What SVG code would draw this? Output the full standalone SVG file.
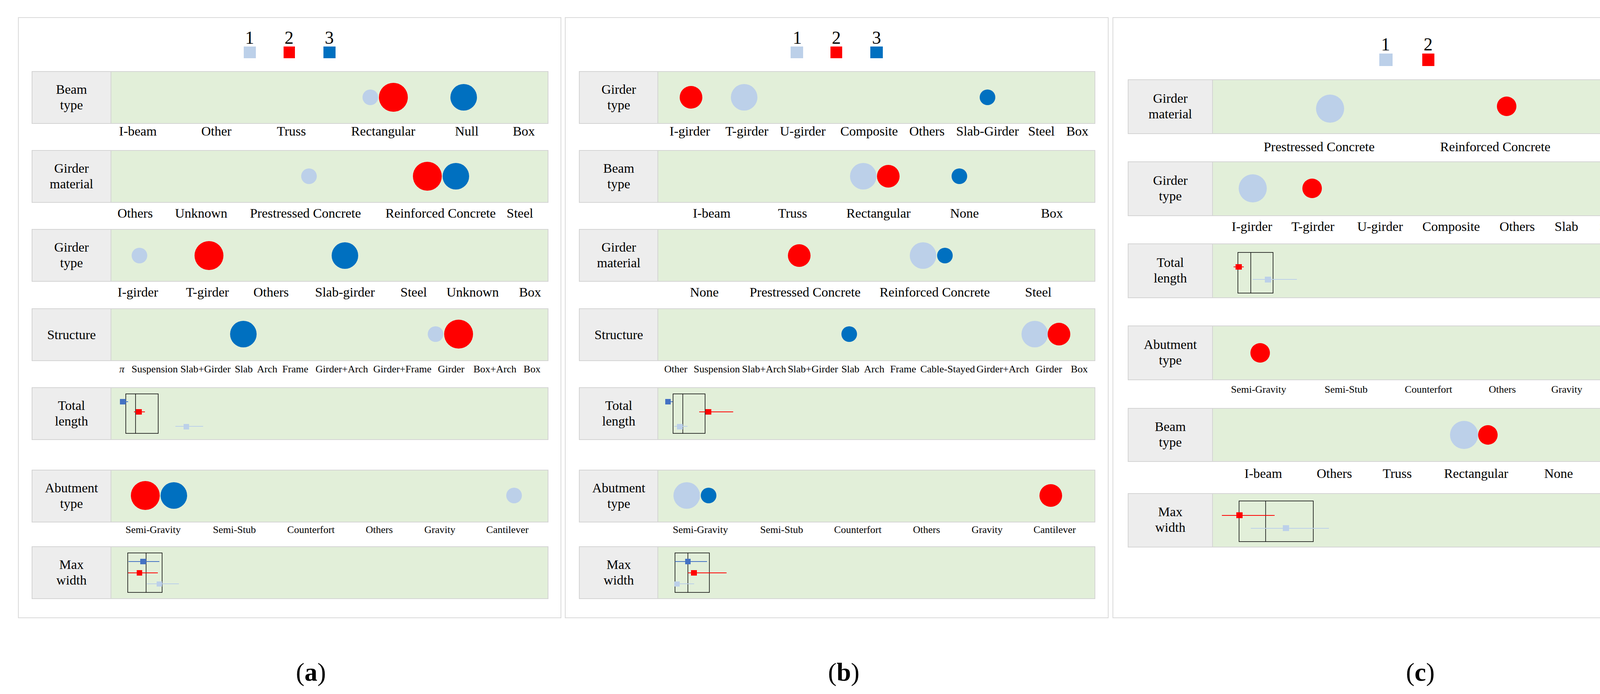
<svg xmlns="http://www.w3.org/2000/svg" width="4380" height="1776" viewBox="0 0 4380 1776">
<style>
text{font-family:"Liberation Serif","Times New Roman",serif;fill:#000;text-anchor:middle}
.t{font-size:34px}.s{font-size:26px}.lg{font-size:46px}.cap{font-size:66px}
.panel{fill:#fff;stroke:#d9d9d9;stroke-width:2}
.lab{fill:#ededed;stroke:#d4d4d4;stroke-width:2}
.grn{fill:#e2efd9;stroke:#d4d4d4;stroke-width:2}
.c1{fill:#bcd0e9}.c2{fill:#ff0000}.c3{fill:#0070c0}.q3{fill:#4472c4}
.box{fill:none;stroke:#000;stroke-width:1.5}
.w1{stroke:#bcd0e9;stroke-width:2}.w2{stroke:#ff0000;stroke-width:2}.w3{stroke:#4472c4;stroke-width:2}
</style>
<rect width="4380" height="1776" fill="#fff"/>
<rect class="panel" x="47" y="45" width="1389" height="1536"/>
<rect class="panel" x="1447" y="45" width="1390" height="1536"/>
<rect class="panel" x="2849" y="45" width="1495" height="1536"/>

<!-- Panel a -->
<g id="legend-a">
<text class="lg" x="639" y="112">1</text><rect class="c1" x="624" y="119" width="31" height="30"/>
<text class="lg" x="740" y="112">2</text><rect class="c2" x="726" y="119" width="29" height="30"/>
<text class="lg" x="843" y="112">3</text><rect class="c3" x="828" y="119" width="31" height="30"/>
</g>
<g id="a-beam">
<rect class="lab" x="82" y="183" width="202" height="133"/><rect class="grn" x="284" y="183" width="1119" height="133"/>
<text class="t" x="183" y="240">Beam</text><text class="t" x="183" y="280">type</text>
<circle class="c1" cx="948" cy="249" r="20"/><circle class="c2" cx="1007" cy="249" r="37"/><circle class="c3" cx="1187" cy="249" r="34"/>
<text class="t" x="353" y="347">I-beam</text><text class="t" x="554" y="347">Other</text><text class="t" x="746" y="347">Truss</text><text class="t" x="981" y="347">Rectangular</text><text class="t" x="1195" y="347">Null</text><text class="t" x="1341" y="347">Box</text>
</g>
<g id="a-gmat">
<rect class="lab" x="82" y="385" width="202" height="133"/><rect class="grn" x="284" y="385" width="1119" height="133"/>
<text class="t" x="183" y="442">Girder</text><text class="t" x="183" y="482">material</text>
<circle class="c1" cx="791" cy="451" r="20"/><circle class="c2" cx="1094" cy="451" r="37"/><circle class="c3" cx="1167" cy="451" r="34"/>
<text class="t" x="346" y="557">Others</text><text class="t" x="515" y="557">Unknown</text><text class="t" x="782" y="557">Prestressed Concrete</text><text class="t" x="1128" y="557">Reinforced Concrete</text><text class="t" x="1331" y="557">Steel</text>
</g>
<g id="a-gtype">
<rect class="lab" x="82" y="587" width="202" height="133"/><rect class="grn" x="284" y="587" width="1119" height="133"/>
<text class="t" x="183" y="644">Girder</text><text class="t" x="183" y="684">type</text>
<circle class="c1" cx="357" cy="654" r="20"/><circle class="c2" cx="535" cy="654" r="37"/><circle class="c3" cx="883" cy="654" r="34"/>
<text class="t" x="353" y="759">I-girder</text><text class="t" x="531" y="759">T-girder</text><text class="t" x="694" y="759">Others</text><text class="t" x="883" y="759">Slab-girder</text><text class="t" x="1059" y="759">Steel</text><text class="t" x="1210" y="759">Unknown</text><text class="t" x="1357" y="759">Box</text>
</g>
<g id="a-struct">
<rect class="lab" x="82" y="790" width="202" height="133"/><rect class="grn" x="284" y="790" width="1119" height="133"/>
<text class="t" x="183" y="868">Structure</text>
<circle class="c3" cx="623" cy="855" r="34"/><circle class="c1" cx="1115" cy="855" r="20"/><circle class="c2" cx="1174" cy="855" r="37"/>
<text class="s" x="312" y="953" font-style="italic">π</text><text class="s" x="396" y="953">Suspension</text><text class="s" x="526" y="953">Slab+Girder</text><text class="s" x="624" y="953">Slab</text><text class="s" x="684" y="953">Arch</text><text class="s" x="756" y="953">Frame</text><text class="s" x="875" y="953">Girder+Arch</text><text class="s" x="1030" y="953">Girder+Frame</text><text class="s" x="1155" y="953">Girder</text><text class="s" x="1267" y="953">Box+Arch</text><text class="s" x="1362" y="953">Box</text>
</g>
<g id="a-tlen">
<rect class="lab" x="82" y="992" width="202" height="133"/><rect class="grn" x="284" y="992" width="1119" height="133"/>
<text class="t" x="183" y="1049">Total</text><text class="t" x="183" y="1089">length</text>
<rect class="box" x="322" y="1008" width="83" height="101"/><line class="box" x1="347" y1="1008" x2="347" y2="1109"/>
<line class="w3" x1="307" y1="1028" x2="328" y2="1028"/><rect class="q3" x="307" y="1021" width="15" height="14"/>
<line class="w2" x1="343" y1="1054" x2="371" y2="1054"/><rect class="c2" x="348" y="1047" width="15" height="14"/>
<line class="w1" x1="449" y1="1091" x2="520" y2="1091"/><rect class="c1" x="470" y="1085" width="14" height="14"/>
</g>
<g id="a-abut">
<rect class="lab" x="82" y="1203" width="202" height="133"/><rect class="grn" x="284" y="1203" width="1119" height="133"/>
<text class="t" x="183" y="1260">Abutment</text><text class="t" x="183" y="1300">type</text>
<circle class="c2" cx="372" cy="1268" r="37"/><circle class="c3" cx="445" cy="1268" r="34"/><circle class="c1" cx="1316" cy="1268" r="20"/>
<text class="s" x="392" y="1364">Semi-Gravity</text><text class="s" x="600" y="1364">Semi-Stub</text><text class="s" x="796" y="1364">Counterfort</text><text class="s" x="971" y="1364">Others</text><text class="s" x="1126" y="1364">Gravity</text><text class="s" x="1299" y="1364">Cantilever</text>
</g>
<g id="a-mw">
<rect class="lab" x="82" y="1399" width="202" height="133"/><rect class="grn" x="284" y="1399" width="1119" height="133"/>
<text class="t" x="183" y="1456">Max</text><text class="t" x="183" y="1496">width</text>
<rect class="box" x="327" y="1415" width="88" height="101"/><line class="box" x1="374" y1="1415" x2="374" y2="1516"/>
<line class="w3" x1="329" y1="1437" x2="408" y2="1437"/><rect class="q3" x="359" y="1430" width="15" height="14"/>
<line class="w2" x1="328" y1="1466" x2="404" y2="1466"/><rect class="c2" x="350" y="1459" width="14" height="14"/>
<line class="w1" x1="376" y1="1494" x2="458" y2="1494"/><rect class="c1" x="401" y="1488" width="14" height="13"/>
</g>
<text class="cap" x="796" y="1742">(<tspan font-weight="bold">a</tspan>)</text>

<!-- Panel b -->
<g id="legend-b">
<text class="lg" x="2041" y="112">1</text><rect class="c1" x="2024" y="119" width="32" height="30"/>
<text class="lg" x="2141" y="112">2</text><rect class="c2" x="2126" y="119" width="30" height="30"/>
<text class="lg" x="2244" y="112">3</text><rect class="c3" x="2228" y="119" width="32" height="30"/>
</g>
<g id="b-gtype">
<rect class="lab" x="1483" y="183" width="201" height="133"/><rect class="grn" x="1684" y="183" width="1119" height="133"/>
<text class="t" x="1584" y="240">Girder</text><text class="t" x="1584" y="280">type</text>
<circle class="c2" cx="1769" cy="249" r="29"/><circle class="c1" cx="1905" cy="249" r="34"/><circle class="c3" cx="2528" cy="249" r="20"/>
<text class="t" x="1766" y="347">I-girder</text><text class="t" x="1912" y="347">T-girder</text><text class="t" x="2055" y="347">U-girder</text><text class="t" x="2225" y="347">Composite</text><text class="t" x="2373" y="347">Others</text><text class="t" x="2528" y="347">Slab-Girder</text><text class="t" x="2666" y="347">Steel</text><text class="t" x="2758" y="347">Box</text>
</g>
<g id="b-beam">
<rect class="lab" x="1483" y="385" width="201" height="133"/><rect class="grn" x="1684" y="385" width="1119" height="133"/>
<text class="t" x="1584" y="442">Beam</text><text class="t" x="1584" y="482">type</text>
<circle class="c1" cx="2210" cy="451" r="34"/><circle class="c2" cx="2274" cy="451" r="29"/><circle class="c3" cx="2456" cy="451" r="20"/>
<text class="t" x="1822" y="557">I-beam</text><text class="t" x="2029" y="557">Truss</text><text class="t" x="2249" y="557">Rectangular</text><text class="t" x="2469" y="557">None</text><text class="t" x="2693" y="557">Box</text>
</g>
<g id="b-gmat">
<rect class="lab" x="1483" y="587" width="201" height="133"/><rect class="grn" x="1684" y="587" width="1119" height="133"/>
<text class="t" x="1584" y="644">Girder</text><text class="t" x="1584" y="684">material</text>
<circle class="c2" cx="2046" cy="654" r="29"/><circle class="c1" cx="2363" cy="654" r="34"/><circle class="c3" cx="2419" cy="654" r="20"/>
<text class="t" x="1803" y="759">None</text><text class="t" x="2061" y="759">Prestressed Concrete</text><text class="t" x="2393" y="759">Reinforced Concrete</text><text class="t" x="2658" y="759">Steel</text>
</g>
<g id="b-struct">
<rect class="lab" x="1483" y="790" width="201" height="133"/><rect class="grn" x="1684" y="790" width="1119" height="133"/>
<text class="t" x="1584" y="868">Structure</text>
<circle class="c3" cx="2174" cy="855" r="20"/><circle class="c1" cx="2649" cy="855" r="34"/><circle class="c2" cx="2711" cy="855" r="29"/>
<text class="s" x="1730" y="953">Other</text><text class="s" x="1835" y="953">Suspension</text><text class="s" x="1956" y="953">Slab+Arch</text><text class="s" x="2081" y="953">Slab+Girder</text><text class="s" x="2177" y="953">Slab</text><text class="s" x="2238" y="953">Arch</text><text class="s" x="2312" y="953">Frame</text><text class="s" x="2426" y="953">Cable-Stayed</text><text class="s" x="2567" y="953">Girder+Arch</text><text class="s" x="2685" y="953">Girder</text><text class="s" x="2763" y="953">Box</text>
</g>
<g id="b-tlen">
<rect class="lab" x="1483" y="992" width="201" height="133"/><rect class="grn" x="1684" y="992" width="1119" height="133"/>
<text class="t" x="1584" y="1049">Total</text><text class="t" x="1584" y="1089">length</text>
<rect class="box" x="1723" y="1008" width="82" height="101"/><line class="box" x1="1748" y1="1008" x2="1748" y2="1109"/>
<line class="w3" x1="1703" y1="1028" x2="1722" y2="1028"/><rect class="q3" x="1703" y="1021" width="14" height="14"/>
<line class="w2" x1="1790" y1="1054" x2="1877" y2="1054"/><rect class="c2" x="1806" y="1047" width="15" height="14"/>
<line class="w1" x1="1726" y1="1091" x2="1760" y2="1091"/><rect class="c1" x="1733" y="1085" width="15" height="14"/>
</g>
<g id="b-abut">
<rect class="lab" x="1483" y="1203" width="201" height="133"/><rect class="grn" x="1684" y="1203" width="1119" height="133"/>
<text class="t" x="1584" y="1260">Abutment</text><text class="t" x="1584" y="1300">type</text>
<circle class="c1" cx="1758" cy="1268" r="34"/><circle class="c3" cx="1814" cy="1268" r="20"/><circle class="c2" cx="2690" cy="1268" r="29"/>
<text class="s" x="1793" y="1364">Semi-Gravity</text><text class="s" x="2001" y="1364">Semi-Stub</text><text class="s" x="2196" y="1364">Counterfort</text><text class="s" x="2372" y="1364">Others</text><text class="s" x="2527" y="1364">Gravity</text><text class="s" x="2700" y="1364">Cantilever</text>
</g>
<g id="b-mw">
<rect class="lab" x="1483" y="1399" width="201" height="133"/><rect class="grn" x="1684" y="1399" width="1119" height="133"/>
<text class="t" x="1584" y="1456">Max</text><text class="t" x="1584" y="1496">width</text>
<rect class="box" x="1728" y="1415" width="88" height="101"/><line class="box" x1="1761" y1="1415" x2="1761" y2="1516"/>
<line class="w3" x1="1728" y1="1437" x2="1810" y2="1437"/><rect class="q3" x="1754" y="1430" width="14" height="14"/>
<line class="w2" x1="1761" y1="1466" x2="1860" y2="1466"/><rect class="c2" x="1769" y="1459" width="15" height="14"/>
<line class="w1" x1="1726" y1="1494" x2="1777" y2="1494"/><rect class="c1" x="1726" y="1488" width="14" height="13"/>
</g>
<text class="cap" x="2160" y="1742">(<tspan font-weight="bold">b</tspan>)</text>

<!-- Panel c -->
<g id="legend-c">
<text class="lg" x="3547" y="129">1</text><rect class="c1" x="3531" y="137" width="34" height="32"/>
<text class="lg" x="3656" y="129">2</text><rect class="c2" x="3641" y="137" width="31" height="32"/>
</g>
<g id="c-gmat">
<rect class="lab" x="2888" y="204" width="216" height="138"/><rect class="grn" x="3104" y="204" width="1203" height="138"/>
<text class="t" x="2996" y="263">Girder</text><text class="t" x="2996" y="303">material</text>
<circle class="c1" cx="3405" cy="278" r="36"/><circle class="c2" cx="3857" cy="272" r="25"/>
<text class="t" x="3377" y="387">Prestressed Concrete</text><text class="t" x="3828" y="387">Reinforced Concrete</text><text class="t" x="4148" y="387">Steel</text>
</g>
<g id="c-gtype">
<rect class="lab" x="2888" y="414" width="216" height="138"/><rect class="grn" x="3104" y="414" width="1203" height="138"/>
<text class="t" x="2996" y="473">Girder</text><text class="t" x="2996" y="513">type</text>
<circle class="c1" cx="3207" cy="482" r="36"/><circle class="c2" cx="3359" cy="482" r="25"/>
<text class="t" x="3205" y="591">I-girder</text><text class="t" x="3361" y="591">T-girder</text><text class="t" x="3533" y="591">U-girder</text><text class="t" x="3715" y="591">Composite</text><text class="t" x="3884" y="591">Others</text><text class="t" x="4010" y="591">Slab</text><text class="t" x="4128" y="591">Steel</text><text class="t" x="4244" y="591">Box</text>
</g>
<g id="c-tlen">
<rect class="lab" x="2888" y="624" width="216" height="138"/><rect class="grn" x="3104" y="624" width="1203" height="138"/>
<text class="t" x="2996" y="683">Total</text><text class="t" x="2996" y="723">length</text>
<rect class="box" x="3169" y="646" width="90" height="104"/><line class="box" x1="3202" y1="646" x2="3202" y2="750"/>
<line class="w2" x1="3158" y1="683" x2="3184" y2="683"/><rect class="c2" x="3163" y="676" width="16" height="14"/>
<line class="w1" x1="3207" y1="715" x2="3320" y2="715"/><rect class="c1" x="3238" y="708" width="16" height="15"/>
</g>
<g id="c-abut">
<rect class="lab" x="2888" y="834" width="216" height="138"/><rect class="grn" x="3104" y="834" width="1203" height="138"/>
<text class="t" x="2996" y="893">Abutment</text><text class="t" x="2996" y="933">type</text>
<circle class="c2" cx="3226" cy="903" r="25"/><circle class="c1" cx="4192" cy="903" r="36"/>
<text class="s" x="3222" y="1005">Semi-Gravity</text><text class="s" x="3446" y="1005">Semi-Stub</text><text class="s" x="3657" y="1005">Counterfort</text><text class="s" x="3846" y="1005">Others</text><text class="s" x="4011" y="1005">Gravity</text><text class="s" x="4198" y="1005">Cantilever</text>
</g>
<g id="c-beam">
<rect class="lab" x="2888" y="1045" width="216" height="136"/><rect class="grn" x="3104" y="1045" width="1203" height="136"/>
<text class="t" x="2996" y="1103">Beam</text><text class="t" x="2996" y="1143">type</text>
<circle class="c1" cx="3748" cy="1113" r="36"/><circle class="c2" cx="3809" cy="1113" r="25"/>
<text class="t" x="3234" y="1223">I-beam</text><text class="t" x="3416" y="1223">Others</text><text class="t" x="3577" y="1223">Truss</text><text class="t" x="3779" y="1223">Rectangular</text><text class="t" x="3990" y="1223">None</text><text class="t" x="4153" y="1223">Box</text>
</g>
<g id="c-mw">
<rect class="lab" x="2888" y="1263" width="216" height="137"/><rect class="grn" x="3104" y="1263" width="1203" height="137"/>
<text class="t" x="2996" y="1321">Max</text><text class="t" x="2996" y="1361">width</text>
<rect class="box" x="3172" y="1282" width="190" height="104"/><line class="box" x1="3240" y1="1282" x2="3240" y2="1386"/>
<line class="w2" x1="3128" y1="1319" x2="3263" y2="1319"/><rect class="c2" x="3165" y="1311" width="16" height="15"/>
<line class="w1" x1="3202" y1="1352" x2="3402" y2="1352"/><rect class="c1" x="3284" y="1344" width="16" height="15"/>
</g>
<text class="cap" x="3636" y="1742">(<tspan font-weight="bold">c</tspan>)</text>
<g id="connectors"/>
</svg>
